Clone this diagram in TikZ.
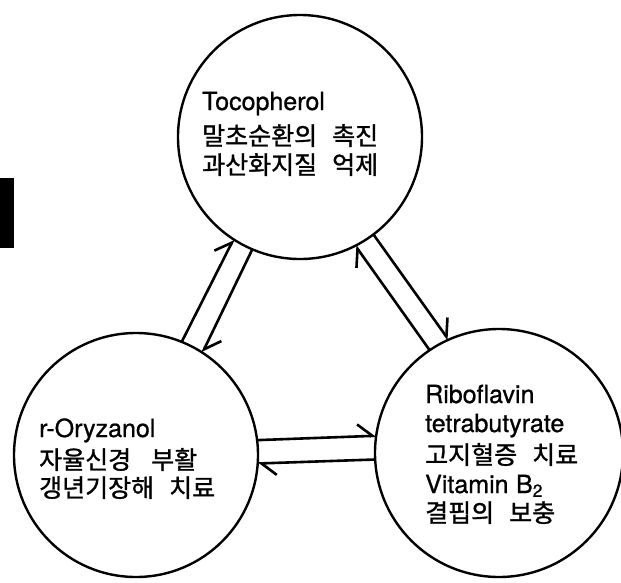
\documentclass[tikz,border=0pt]{standalone}
\usepackage{fontspec}
\setmainfont[FakeBold=0.8]{TeX Gyre Heros}
\newfontfamily\kr[FakeBold=1.2]{Noto Sans CJK KR}
\usetikzlibrary{arrows.meta}
\begin{document}
\begin{tikzpicture}[x=1pt,y=-1pt,
  circ/.style={circle, draw, line width=2.4pt, inner sep=0pt, outer sep=0pt},
  link/.style={line width=2.6pt, -{Straight Barb[harpoon, length=15pt, width=24pt]}},
  lat/.style={anchor=base west, inner sep=0pt, font=\fontsize{25}{30}\selectfont},
  kor/.style={anchor=base west, inner sep=0pt, font=\kr\fontsize{25}{30}\selectfont}]
\useasboundingbox (0,0) rectangle (621,582);
\fill (0,178) rectangle (14,248);
\node[circ, minimum size=244pt] (T) at (300,137) {};
\node[circ, minimum size=244pt] (L) at (136,455) {};
\node[circ, minimum size=248pt] (R) at (499,453) {};
\draw[link] (L.68.2) -- (T.237.5);
\draw[link] (T.247.8) -- (L.57.8);
\draw[link] (R.124.6) -- (T.297.2);
\draw[link] (T.307.3) -- (R.114.7);
\draw[link] (L.7) -- (R.172.6);
\draw[link] (R.183.7) -- (L.356.3);
\node[lat] (t1) at (202,110) {Tocopherol};
\node[kor] (t2) at (202,145) {말초순환의\hspace{0.6em}촉진};
\node[kor] (t3) at (202,174) {과산화지질\hspace{0.6em}억제};
\node[lat] (l1) at (39,437) {r-Oryzanol};
\node[kor] (l2) at (39,469) {자율신경\hspace{0.8em}부활};
\node[kor] (l3) at (39,497) {갱년기장해\hspace{0.6em}치료};
\node[lat] (r1) at (425,403) {Riboflavin};
\node[lat] (r2) at (425,432) {tetrabutyrate};
\node[kor] (r3) at (425,464) {고지혈증\hspace{0.6em}치료};
\node[lat] (r4) at (425,493) {Vitamin\hspace{0.3em}B\textsubscript{2}};
\node[kor] (r5) at (425,522) {결핍의\hspace{0.6em}보충};
\end{tikzpicture}
\end{document}
